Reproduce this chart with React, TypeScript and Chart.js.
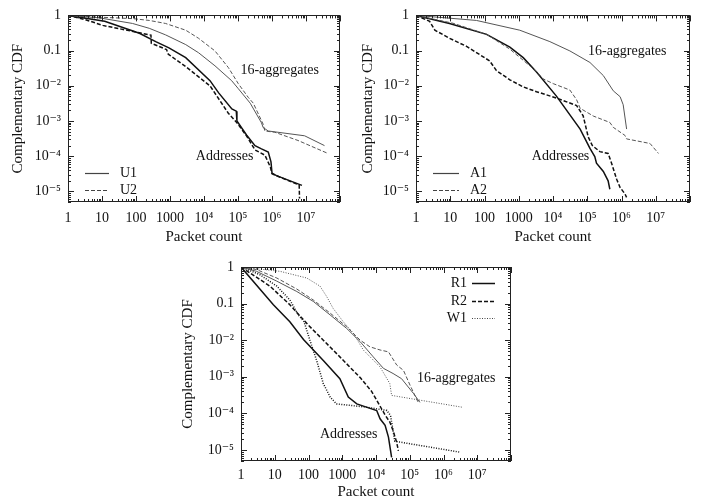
import React, { useEffect, useRef } from 'react';
import { Chart, registerables } from 'chart.js';

Chart.register(...registerables);

type Pt = [number, number];

// ---------- axes ----------
const X_TICKS = [1, 10, 100, 1000, 1e4, 1e5, 1e6, 1e7];
const X_TICK_LABELS = ['1', '10', '100', '1000', '10⁴', '10⁵', '10⁶', '10⁷'];
const Y_TICKS = [1e-5, 1e-4, 1e-3, 1e-2, 0.1, 1];
const Y_TICK_LABELS = ['10⁻⁵', '10⁻⁴', '10⁻³', '10⁻²', '0.1', '1'];
const X_MIN = 1;
const X_MAX = 1e8;
const Y_MIN = 5e-6;
const Y_MAX = 1;
const X_TITLE = 'Packet count';
const Y_TITLE = 'Complementary CDF';

// ---------- panel 1 (U1 / U2) ----------
const U1_ADDR: Pt[] = [
  [1, 1], [12, 0.68], [126, 0.31], [380, 0.18], [930, 0.12], [2900, 0.063],
  [15000, 0.014], [27000, 0.0063], [66000, 0.0022], [89000, 0.0019], [93000, 0.001],
  [178000, 0.0004], [316000, 0.0002], [490000, 0.000162], [776000, 0.000132],
  [933000, 0.000069], [1000000, 0.000033], [1350000, 0.000028], [7600000, 0.0000148],
];
const U2_ADDR: Pt[] = [
  [1, 1], [3.2, 0.76], [10.5, 0.52], [32, 0.42], [126, 0.32], [275, 0.275], [282, 0.162],
  [790, 0.107], [890, 0.079], [2900, 0.035], [15000, 0.01], [52000, 0.00166],
  [93000, 0.00089], [178000, 0.00038], [316000, 0.000151], [620000, 0.000107],
  [890000, 0.00005], [1000000, 0.0000316], [6300000, 0.0000151], [6450000, 0.0000063],
];
const U1_AGG: Pt[] = [
  [1, 1], [8.5, 0.85], [79, 0.59], [245, 0.43], [740, 0.28], [2900, 0.148], [6900, 0.087],
  [21000, 0.037], [65000, 0.014], [102000, 0.0083], [229000, 0.0032], [490000, 0.00089],
  [550000, 0.00065], [776000, 0.00052], [9100000, 0.00038], [35000000, 0.0002],
];
const U2_AGG: Pt[] = [
  [1, 1], [8.5, 0.89], [79, 0.81], [245, 0.72], [740, 0.59], [2900, 0.38], [6900, 0.224],
  [21000, 0.098], [52000, 0.033], [102000, 0.0115], [200000, 0.0047], [282000, 0.0032],
  [550000, 0.00081], [617000, 0.00052], [1200000, 0.00048], [5800000, 0.00028],
  [44000000, 0.00012],
];

// ---------- panel 2 (A1 / A2) ----------
const A1_ADDR: Pt[] = [
  [1, 1], [9.5, 0.59], [115, 0.29], [550, 0.126], [1350, 0.063], [3300, 0.0245],
  [12600, 0.0051], [62000, 0.00059], [120000, 0.000166], [166000, 0.000098],
  [186000, 0.000063], [295000, 0.000037], [407000, 0.00002], [457000, 0.0000115],
];
const A2_ADDR: Pt[] = [
  [1, 1], [2.5, 0.68], [3.55, 0.38], [9.5, 0.224], [30, 0.132], [141, 0.051], [224, 0.027],
  [550, 0.0148], [1350, 0.0093], [3300, 0.0068], [12600, 0.0045], [49000, 0.00275],
  [76000, 0.0014], [107000, 0.00035], [141000, 0.0002], [234000, 0.000135],
  [407000, 0.00012], [513000, 0.000063], [724000, 0.000022], [912000, 0.0000129],
  [1260000, 0.0000085], [1410000, 0.0000068],
];
const A1_AGG: Pt[] = [
  [1, 1], [58, 0.72], [1070, 0.38], [8100, 0.18], [31000, 0.098], [120000, 0.046],
  [295000, 0.0195], [575000, 0.0072], [912000, 0.0049], [1120000, 0.0029], [1410000, 0.00059],
];
const A2_AGG: Pt[] = [
  [1, 1], [12, 0.6], [115, 0.29], [550, 0.11], [1350, 0.053], [3300, 0.0255], [5100, 0.0158],
  [10200, 0.0115], [31000, 0.0076], [49000, 0.004], [62000, 0.0023], [151000, 0.00138],
  [457000, 0.00091], [575000, 0.00066], [1260000, 0.00039], [1410000, 0.00031],
  [6800000, 0.00023], [12000000, 0.00012],
];

// ---------- panel 3 (R1 / R2 / W1) ----------
const R1_ADDR: Pt[] = [
  [1, 1], [9.1, 0.093], [28, 0.032], [71, 0.0105], [275, 0.0028], [850, 0.00089],
  [1510, 0.00028], [2700, 0.000182], [5200, 0.000148], [10500, 0.00012], [13200, 0.000071],
  [18600, 0.000047], [23400, 0.0000224], [29000, 0.0000063],
];
const R2_ADDR: Pt[] = [
  [1, 1], [7.2, 0.3], [28, 0.093], [98, 0.026], [275, 0.01], [850, 0.0035], [3400, 0.00095],
  [7400, 0.0004], [10500, 0.00023], [18600, 0.00009], [25700, 0.000058], [32000, 0.000034],
  [41000, 0.0000162], [46000, 0.0000095],
];
const W1_ADDR: Pt[] = [
  [1, 1], [3.6, 0.62], [11.5, 0.3], [28, 0.126], [50, 0.049], [74, 0.032], [110, 0.01],
  [174, 0.0028], [275, 0.00065], [437, 0.00028], [676, 0.000182], [5200, 0.000148],
  [21000, 0.00012], [27000, 0.000087], [36000, 0.0000174], [3100000, 0.0000087],
];
const R1_AGG: Pt[] = [
  [1, 1], [2.9, 0.76], [11.5, 0.41], [45, 0.214], [138, 0.115], [437, 0.049], [1350, 0.021],
  [3400, 0.0091], [8300, 0.0035], [16600, 0.0017], [32000, 0.00123], [57000, 0.00089],
  [129000, 0.00035], [200000, 0.0002],
];
const R2_AGG: Pt[] = [
  [1, 1], [2.9, 0.85], [11.5, 0.5], [45, 0.25], [138, 0.126], [437, 0.055], [1350, 0.0234],
  [3400, 0.01], [6600, 0.0066], [13200, 0.0054], [23400, 0.0048], [41000, 0.0021],
  [65000, 0.0015], [102000, 0.00059], [178000, 0.0002],
];
const W1_AGG: Pt[] = [
  [1, 1], [14.5, 0.76], [89, 0.5], [219, 0.3], [347, 0.155], [537, 0.074], [1070, 0.032],
  [2140, 0.0155], [4200, 0.0054], [13200, 0.00186], [25700, 0.00065], [29000, 0.00031],
  [200000, 0.00023], [3500000, 0.000148],
];

// ---------- styling ----------
const FONT = '"Liberation Serif", "Times New Roman", "DejaVu Serif", serif';
const DASH: Record<string, number[]> = { solid: [], dashed: [4, 2], dotted: [1, 1.5] };

type Series = { data: Pt[]; thick: boolean; dash: string };
type Label = { text: string; x: number; y: number };
type LegendCfg = {
  entries: { text: string; dash: string; thick: boolean }[];
  align: 'left' | 'right';
  fromRight: boolean;
  textX: number;
  line0: number;
  line1: number;
  rows: number[];
};
type PanelCfg = {
  left: number; top: number; width: number; height: number;
  padding: { left: number; top: number; right: number; bottom: number };
  yAxisWidth: number; xAxisHeight: number; xTickPad: number; xTitlePad: number;
  series: Series[]; labels: Label[]; legend: LegendCfg;
};

const PANELS: PanelCfg[] = [
  {
    left: 0, top: 0, width: 350, height: 250,
    padding: { left: 0, top: 10, right: 10, bottom: 0 },
    yAxisWidth: 68, xAxisHeight: 48, xTickPad: 8, xTitlePad: 4,
    series: [
      { data: U1_AGG, thick: false, dash: 'solid' },
      { data: U2_AGG, thick: false, dash: 'dashed' },
      { data: U1_ADDR, thick: true, dash: 'solid' },
      { data: U2_ADDR, thick: true, dash: 'dashed' },
    ],
    labels: [
      { text: '16-aggregates', x: 118000, y: 0.028 },
      { text: 'Addresses', x: 5750, y: 9.6e-5 },
    ],
    legend: {
      entries: [
        { text: 'U1', dash: 'solid', thick: false },
        { text: 'U2', dash: 'dashed', thick: false },
      ],
      align: 'left', fromRight: false, textX: 52, line0: 17, line1: 41, rows: [158, 175],
    },
  },
  {
    left: 350, top: 0, width: 350, height: 250,
    padding: { left: 0, top: 10, right: 10, bottom: 0 },
    yAxisWidth: 66, xAxisHeight: 48, xTickPad: 8, xTitlePad: 4,
    series: [
      { data: A1_AGG, thick: false, dash: 'solid' },
      { data: A2_AGG, thick: false, dash: 'dashed' },
      { data: A1_ADDR, thick: true, dash: 'solid' },
      { data: A2_ADDR, thick: true, dash: 'dashed' },
    ],
    labels: [
      { text: '16-aggregates', x: 105000, y: 0.095 },
      { text: 'Addresses', x: 2400, y: 9.6e-5 },
    ],
    legend: {
      entries: [
        { text: 'A1', dash: 'solid', thick: false },
        { text: 'A2', dash: 'dashed', thick: false },
      ],
      align: 'left', fromRight: false, textX: 54, line0: 17, line1: 43, rows: [158, 175],
    },
  },
  {
    left: 170, top: 250, width: 350, height: 251,
    padding: { left: 0, top: 17, right: 9, bottom: 0 },
    yAxisWidth: 71, xAxisHeight: 40, xTickPad: 6, xTitlePad: 0,
    series: [
      { data: R1_AGG, thick: false, dash: 'solid' },
      { data: R2_AGG, thick: false, dash: 'dashed' },
      { data: W1_AGG, thick: false, dash: 'dotted' },
      { data: R1_ADDR, thick: true, dash: 'solid' },
      { data: R2_ADDR, thick: true, dash: 'dashed' },
      { data: W1_ADDR, thick: true, dash: 'dotted' },
    ],
    labels: [
      { text: '16-aggregates', x: 163000, y: 0.00089 },
      { text: 'Addresses', x: 219, y: 2.75e-5 },
    ],
    legend: {
      entries: [
        { text: 'R1', dash: 'solid', thick: true },
        { text: 'R2', dash: 'dashed', thick: true },
        { text: 'W1', dash: 'dotted', thick: false },
      ],
      align: 'right', fromRight: true, textX: 44, line0: 39, line1: 16, rows: [16, 34, 51],
    },
  },
];

function makeDeco(panel: PanelCfg) {
  return {
    id: 'deco',
    afterDatasetsDraw(chart: any) {
      const { ctx, chartArea: a, scales } = chart;
      const xs = scales.x;
      const ys = scales.y;
      ctx.save();
      ctx.strokeStyle = '#222';
      ctx.lineWidth = 1;
      ctx.setLineDash([]);
      const line = (x0: number, y0: number, x1: number, y1: number) => {
        ctx.beginPath();
        ctx.moveTo(x0, y0);
        ctx.lineTo(x1, y1);
        ctx.stroke();
      };
      // inward tick marks on all four sides
      for (let e = 0; e <= 8; e++) {
        for (let m = 1; m <= 9; m++) {
          const v = m * Math.pow(10, e);
          if (v < X_MIN * 0.999 || v > X_MAX * 1.001) continue;
          const p = Math.round(xs.getPixelForValue(v)) + 0.5;
          const len = m === 1 ? 6 : 3;
          line(p, a.bottom, p, a.bottom - len);
          line(p, a.top, p, a.top + len);
        }
      }
      for (let e = -6; e <= 0; e++) {
        for (let m = 1; m <= 9; m++) {
          const v = m * Math.pow(10, e);
          if (v < Y_MIN * 0.999 || v > Y_MAX * 1.001) continue;
          const p = Math.round(ys.getPixelForValue(v)) + 0.5;
          const len = m === 1 ? 6 : 3;
          line(a.left, p, a.left + len, p);
          line(a.right, p, a.right - len, p);
        }
      }
      // frame
      ctx.strokeRect(Math.round(a.left) + 0.5, Math.round(a.top) + 0.5,
        Math.round(a.right - a.left) - 1, Math.round(a.bottom - a.top) - 1);

      // curve labels
      ctx.fillStyle = '#111';
      ctx.font = `14px ${FONT}`;
      ctx.textBaseline = 'middle';
      ctx.textAlign = 'left';
      panel.labels.forEach((l) => {
        ctx.fillText(l.text, xs.getPixelForValue(l.x), ys.getPixelForValue(l.y));
      });

      // legend
      const lg = panel.legend;
      lg.entries.forEach((en, i) => {
        const y = a.top + lg.rows[i];
        const tx = lg.fromRight ? a.right - lg.textX : a.left + lg.textX;
        const l0 = lg.fromRight ? a.right - lg.line0 : a.left + lg.line0;
        const l1 = lg.fromRight ? a.right - lg.line1 : a.left + lg.line1;
        ctx.textAlign = lg.align;
        ctx.fillStyle = '#111';
        ctx.fillText(en.text, tx, y);
        ctx.strokeStyle = en.thick ? '#111' : '#444';
        ctx.lineWidth = en.thick ? 1.5 : 1.2;
        ctx.setLineDash(DASH[en.dash]);
        line(l0, Math.round(y) + 0.5, l1, Math.round(y) + 0.5);
        ctx.setLineDash([]);
      });
      ctx.restore();
    },
  };
}

function Panel({ panel }: { panel: PanelCfg }) {
  const ref = useRef<HTMLCanvasElement | null>(null);
  useEffect(() => {
    if (!ref.current) return;
    const chart = new Chart(ref.current, {
      type: 'line',
      data: {
        datasets: panel.series.map((s, i) => ({
          label: `s${i}`,
          data: s.data.map(([x, y]) => ({ x, y })),
          borderColor: s.thick ? '#111' : '#555',
          borderWidth: s.thick ? 1.5 : 1,
          borderDash: DASH[s.dash],
          pointRadius: 0,
          fill: false,
          tension: 0,
        })),
      },
      options: {
        animation: false,
        responsive: false,
        devicePixelRatio: 1,
        events: [],
        layout: { padding: panel.padding },
        plugins: { legend: { display: false }, tooltip: { enabled: false } },
        scales: {
          x: {
            type: 'logarithmic',
            position: 'bottom',
            min: X_MIN,
            max: X_MAX,
            grid: { display: false, drawTicks: false },
            border: { display: false },
            afterBuildTicks: (s: any) => { s.ticks = X_TICKS.map((v) => ({ value: v })); },
            afterFit: (s: any) => { s.height = panel.xAxisHeight; },
            ticks: {
              autoSkip: false, maxRotation: 0, minRotation: 0,
              padding: panel.xTickPad, color: '#111',
              font: { family: FONT, size: 14 },
              callback: (_v: any, i: number) => X_TICK_LABELS[i],
            },
            title: {
              display: true, text: X_TITLE, color: '#111',
              font: { family: FONT, size: 15 },
              padding: { top: 0, bottom: panel.xTitlePad },
            },
          },
          y: {
            type: 'logarithmic',
            position: 'left',
            min: Y_MIN,
            max: Y_MAX,
            grid: { display: false, drawTicks: false },
            border: { display: false },
            afterBuildTicks: (s: any) => { s.ticks = Y_TICKS.map((v) => ({ value: v })); },
            afterFit: (s: any) => { s.width = panel.yAxisWidth; },
            ticks: {
              autoSkip: false, padding: 7, color: '#111',
              font: { family: FONT, size: 14 },
              callback: (_v: any, i: number) => Y_TICK_LABELS[i],
            },
            title: {
              display: true, text: Y_TITLE, color: '#111',
              font: { family: FONT, size: 15 },
              padding: { top: 9, bottom: 0 },
            },
          },
        },
      } as any,
      plugins: [makeDeco(panel)],
    });
    return () => chart.destroy();
  }, [panel]);
  return (
    <canvas
      ref={ref}
      width={panel.width}
      height={panel.height}
      style={{ position: 'absolute', left: panel.left, top: panel.top, width: panel.width, height: panel.height }}
    />
  );
}

export default function App() {
  return (
    <div style={{ position: 'absolute', left: 0, top: 0, width: 703, height: 501, background: '#fff', overflow: 'hidden' }}>
      {PANELS.map((p, i) => (
        <Panel key={i} panel={p} />
      ))}
    </div>
  );
}
